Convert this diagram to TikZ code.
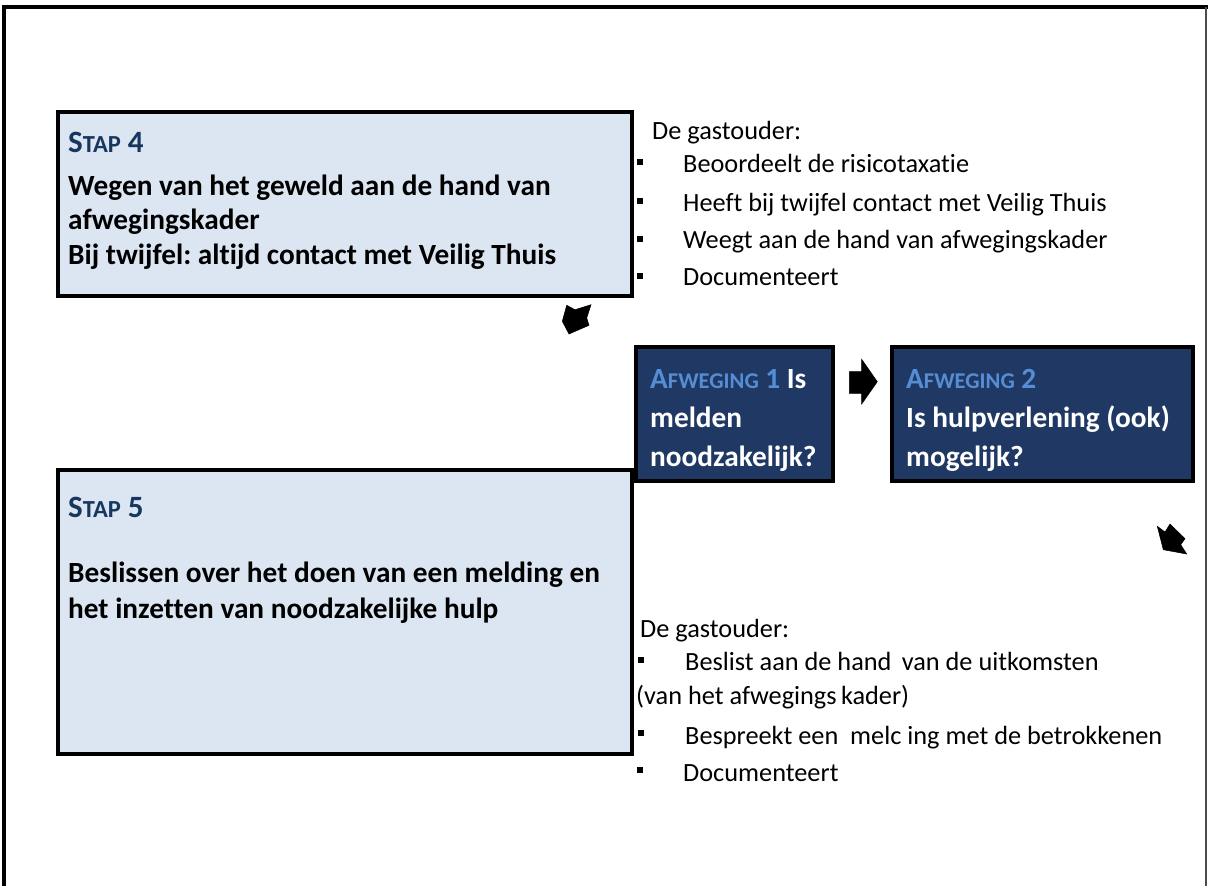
\documentclass[tikz,border=0pt]{standalone}
\usepackage{fontspec}
\setmainfont[Ligatures=NoCommon]{Carlito}
\definecolor{boxfill}{HTML}{DCE6F2}
\definecolor{navy}{HTML}{203864}
\definecolor{stapblue}{HTML}{17375E}
\definecolor{afwblue}{HTML}{558ED5}
\newcommand{\bigsz}{\fontsize{29.3}{35}\selectfont}
\newcommand{\smsz}{\fontsize{22.5}{27}\selectfont}
\newcommand{\stapbig}{\fontsize{31}{36}\selectfont}
\newcommand{\stapsm}{\fontsize{24.5}{29}\selectfont}
\newcommand{\txtsz}{\fontsize{26.3}{31}\selectfont}
\frenchspacing
\tikzset{
  stepbox/.style={draw=black, line width=4pt, fill=boxfill, anchor=north west, inner sep=0pt},
  afwbox/.style={draw=black, line width=4pt, fill=navy, anchor=north west, inner sep=0pt},
  boldtxt/.style={anchor=base west, inner sep=0pt, font=\bigsz\bfseries},
  staptxt/.style={anchor=base west, inner sep=0pt, font=\stapbig\bfseries, text=stapblue},
  listtxt/.style={anchor=base west, inner sep=0pt, font=\txtsz},
  bullet/.style={fill=black, inner sep=0pt, minimum size=6.5pt},
  blockarrow/.style={fill=black, draw=black, line width=0.5pt, line join=miter}
}
\begin{document}
\begin{tikzpicture}[x=1pt,y=-1pt]
\useasboundingbox (0,0) rectangle (1210,886);
% outer frame
\draw[line width=4pt] (4,886) -- (4,7) -- (1208,7);
\draw[line width=1.2pt, black!70] (1206,7) -- (1206,886);

% STAP 4 box
\node[stepbox, minimum width=574pt, minimum height=184pt] (s4) at (56,110) {};
\node[staptxt] (s4t) at (68,152) {S{\stapsm TAP} 4};
\node[boldtxt] (s4a) at (68,195) {Wegen van het geweld aan de hand van};
\node[boldtxt] (s4b) at (68,229) {afwegingskader};
\node[boldtxt] (s4c) at (68,264) {Bij twijfel: altijd contact met Veilig Thuis};

% list 1
\node[listtxt] (l1h) at (652,139) {De gastouder:};
\node[bullet] (b1) at (640,162) {};
\node[listtxt] (l1a) at (683,172) {Beoordeelt de risicotaxatie};
\node[bullet] (b2) at (640,201) {};
\node[listtxt] (l1b) at (683,211) {Heeft bij twijfel contact met Veilig Thuis};
\node[bullet] (b3) at (640,239) {};
\node[listtxt] (l1c) at (683,248) {Weegt aan de hand van afwegingskader};
\node[bullet] (b4) at (640,276) {};
\node[listtxt] (l1d) at (683,285) {Documenteert};

% Afweging boxes
\node[afwbox, minimum width=197pt, minimum height=134pt] (a1) at (634,345) {};
\node[boldtxt, text=white] (a1a) at (650,388) {\textcolor{afwblue}{A{\smsz FWEGING} 1} Is};
\node[boldtxt, text=white] (a1b) at (650,427) {melden};
\node[boldtxt, text=white] (a1c) at (650,466) {noodzakelijk?};

\node[afwbox, minimum width=301pt, minimum height=134pt] (a2) at (890,345) {};
\node[boldtxt, text=afwblue] (a2a) at (906,388) {A{\smsz FWEGING} 2};
\node[boldtxt, text=white] (a2b) at (906,427) {Is hulpverlening (ook)};
\node[boldtxt, text=white] (a2c) at (906,466) {mogelijk?};

% STAP 5 box
\node[stepbox, minimum width=574pt, minimum height=284pt] (s5) at (56,468) {};
\node[staptxt] (s5t) at (68,517) {S{\stapsm TAP} 5};
\node[boldtxt] (s5a) at (68,582) {Beslissen over het doen van een melding en};
\node[boldtxt] (s5b) at (68,618) {het inzetten van noodzakelijke hulp};

% list 2
\node[listtxt] (l2h) at (640,637) {De gastouder:};
\node[bullet] (c1) at (641,660) {};
\node[listtxt] (l2a) at (685,670) {Beslist aan de hand\, van de uitkomsten};
\node[listtxt] (l2b) at (636,704) {(van het afwegings\,kader)};
\node[bullet] (c2) at (641,733) {};
\node[listtxt] (l2c) at (685,744) {Bespreekt een\ \ melc ing met de betrokkenen};
\node[bullet] (c3) at (640,770) {};
\node[listtxt] (l2d) at (683,781) {Documenteert};

% block arrows
\fill[blockarrow] (566.7,305.3) -- (575,309.7) -- (591,304.7) -- (586.7,318) -- (589,325.3) -- (569,334) -- (562.3,321.3) -- cycle;
\fill[blockarrow] (849.3,371.7) -- (861.7,371.7) -- (861.7,359.3) -- (877.3,381.7) -- (861.7,404) -- (861.7,393.3) -- (849.3,393.3) -- cycle;
\fill[blockarrow] (1157.3,526.3) -- (1165,532) -- (1170,524) -- (1185,538.7) -- (1180.7,544.7) -- (1186.7,554) -- (1163.3,549.7) -- cycle;
\end{tikzpicture}
\end{document}
